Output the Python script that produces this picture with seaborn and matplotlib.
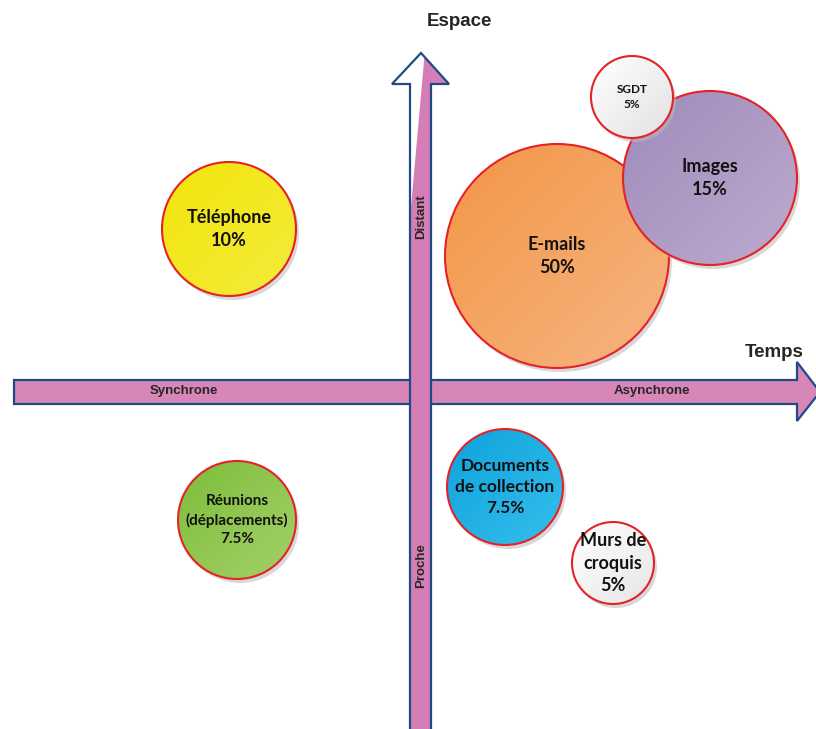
import matplotlib
matplotlib.use("Agg")
import matplotlib.pyplot as plt
from matplotlib.patches import Circle, Polygon
from matplotlib.colors import ListedColormap
import numpy as np
import pandas as pd
import seaborn as sns

# bubbles: position on the Temps (x) / Espace (y) map, in picture units
labels = ["Téléphone\n10%", "E-mails\n50%", "Images\n15%", "SGDT\n5%",
          "Documents\nde collection\n7.5%", "Réunions\n(déplacements)\n7.5%",
          "Murs de\ncroquis\n5%"]
temps = [229, 557, 710, 632, 505, 237, 613]
espace = [229, 256, 178, 97, 487, 520, 563]
radius = [67, 112, 87, 41, 58, 59, 41]
font_sizes = [13, 13, 13, 8.5, 12.5, 11, 13]
color_start = ["#F3E50A", "#F39647", "#A08BBA", "#FFFFFF", "#0EA3DD", "#7EBE3A", "#FFFFFF"]
color_end = ["#F4EB3C", "#F6B581", "#BCABCF", "#E2E2E2", "#35BEEC", "#A3D06A", "#E6E6E6"]

df = pd.DataFrame({"label": labels, "temps": temps, "espace": espace, "r": radius,
                   "fs": font_sizes, "c1": color_start, "c2": color_end})

sns.set_theme(style="white")
plt.rcParams["font.family"] = ["Liberation Sans", "DejaVu Sans"]

fig = plt.figure(figsize=(8.16, 7.29), dpi=100)
ax = fig.add_axes([0, 0, 1, 1])
ax.set_xlim(0, 816)
ax.set_ylim(729, 0)
ax.axis("off")

pink = "#D47EB5"
navy = "#1F4A85"

# horizontal arrow (Temps)
h_arrow = Polygon([(14, 380), (797, 380), (797, 362), (820, 392), (797, 421),
                   (797, 404), (14, 404)], closed=True, facecolor="#D886B8",
                  edgecolor=navy, lw=1.6, zorder=1)
ax.add_patch(h_arrow)

# vertical arrow (Espace)
v_pts = [(410, 735), (410, 84), (392, 84), (421, 53), (449, 84), (431, 84), (431, 735)]
v_arrow = Polygon(v_pts, closed=True, facecolor=pink, edgecolor="none", zorder=2)
ax.add_patch(v_arrow)
shine = Polygon([(411, 207), (425, 50), (380, 50), (380, 207)], closed=True,
                facecolor="white", edgecolor="none", zorder=2.1)
ax.add_patch(shine)
shine.set_clip_path(v_arrow)
ax.add_patch(Polygon(v_pts, closed=True, fill=False, edgecolor=navy, lw=1.6, zorder=2.2))

# arrow texts
ax.text(459, 21, "Espace", ha="center", va="center", fontsize=13.5, fontweight="bold")
ax.text(774, 352, "Temps", ha="center", va="center", fontsize=13.5, fontweight="bold")
ax.text(184, 391, "Synchrone", ha="center", va="center", fontsize=9.5, fontweight="bold", zorder=3)
ax.text(652, 391, "Asynchrone", ha="center", va="center", fontsize=9.5, fontweight="bold", zorder=3)
ax.text(421, 217, "Distant", ha="center", va="center", fontsize=9.5, fontweight="bold",
        rotation=90, zorder=3)
ax.text(421, 566, "Proche", ha="center", va="center", fontsize=9.5, fontweight="bold",
        rotation=90, zorder=3)

# bubbles with gradient fill, drop shadow and red edge
for i, row in df.iterrows():
    z = 5 + i * 4
    x, y, r = row["temps"], row["espace"], row["r"]
    ax.add_patch(Circle((x + 3, y + 4), r, facecolor="#B9B9B9", alpha=0.55,
                        edgecolor="none", zorder=z))
    cmap = ListedColormap(sns.blend_palette([row["c1"], row["c2"]], 64))
    grad = np.add.outer(np.linspace(0, 1, 64), np.linspace(0, 1, 64)) / 2
    im = ax.imshow(grad, cmap=cmap, extent=(x - r, x + r, y + r, y - r),
                   interpolation="bilinear", aspect="auto", zorder=z + 1)
    clip = Circle((x, y), r, transform=ax.transData)
    im.set_clip_path(clip)
    ax.add_patch(Circle((x, y), r, fill=False, edgecolor="#E52228", lw=1.5, zorder=z + 2))
    ax.text(x, y, row["label"], ha="center", va="center", fontsize=row["fs"],
            fontweight="bold", family=["Lato", "DejaVu Sans"], color="#111111",
            linespacing=1.4, zorder=z + 3)

ax.set_xlim(0, 816)
ax.set_ylim(729, 0)
fig.savefig("out.png", dpi=100)
